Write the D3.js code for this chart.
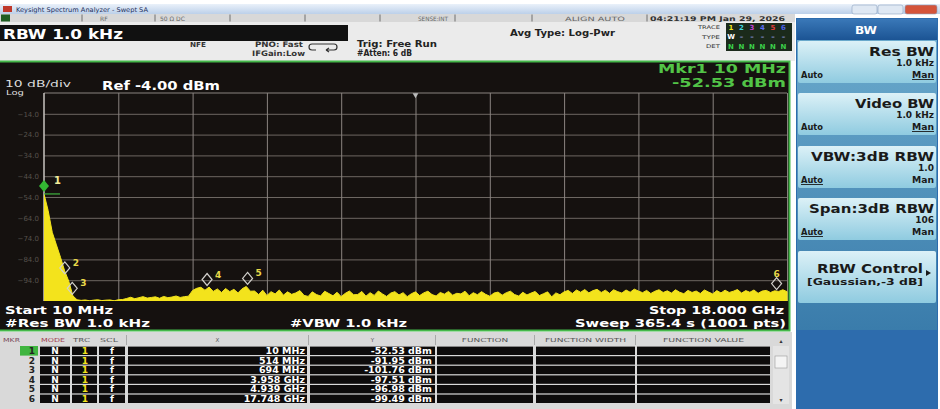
<!DOCTYPE html>
<html>
<head>
<meta charset="utf-8">
<script src="https://cdn.jsdelivr.net/npm/d3@7"></script>
<style>
body { margin: 0; background: #fff; overflow: hidden; }
svg { display: block; }
</style>
</head>
<body>
<script>
// sweep settings
var startGHz = 0.01, stopGHz = 18.0;
var refLevel = -4, dbPerDiv = 10, nDiv = 10;

// trace 1 (dBm), evenly spaced from start to stop
var traceDbm = [
  -52.5, -60.5, -71, -77, -83, -89.5, -94.5, -101.5, -103.4,
  -103.7, -103.5, -103.9, -103.6, -103.4, -103.8, -103.6, -103.5, -103.9, -103.4, -103.3,
  -102.8, -102.2, -102.9, -102.4, -101.9, -102.6, -102.3, -102.0, -102.7, -101.8, -102.4, -102.1, -101.6, -102.3, -101.9, -101.7,
  -98.9, -97.9, -97.4, -98.8, -97.3, -99.4, -98.2, -99.9, -98.0, -99.5, -98.4, -100.1, -98.1, -97.0, -99.3,
  -99.2, -100.9, -98.8, -101.4, -99.5, -100.6, -98.7, -101.2, -99.6, -100.8,
  -100.1, -99.0, -101.3, -101.8, -99.6, -100.9, -101.6, -99.3, -100.4, -101.5, -99.8, -101.9, -100.3, -99.2, -101.0,
  -100.9, -99.4, -101.7, -100.0, -101.3, -99.2, -100.6, -101.8, -100.2, -99.5, -101.1, -100.0, -101.9, -100.5, -99.6,
  -101.4, -100.1, -99.3, -100.9, -101.6, -99.9, -100.7, -99.4, -101.2, -100.3,
  -100.6, -99.3, -101.5, -100.0, -101.0, -99.5, -100.8, -101.7, -100.2, -99.7, -101.2, -100.0, -99.3, -100.9, -101.6,
  -99.8, -101.1, -100.2, -99.4, -101.4, -100.5, -99.6, -102.0, -100.1, -101.0,
  -99.6, -98.9, -100.4, -98.7, -99.8, -98.5, -100.1, -99.0, -98.4, -99.9, -98.8, -100.3, -98.6, -99.5, -100.2,
  -98.7, -99.8, -98.3, -99.2, -100.0, -98.9, -100.4, -99.3, -98.6, -99.9,
  -99.1, -100.2, -98.6, -99.8, -100.5, -98.9, -99.9, -99.2, -100.4, -98.7, -99.7, -100.6, -99.0, -100.1, -98.8,
  -99.9, -99.3, -98.5, -100.2, -99.0, -99.8, -98.7, -100.3, -99.2, -98.9, -99.9, -99.1, -99.4, -98.6, -99.5
];

// markers
var markerNums = [1, 2, 3, 4, 5, 6];
var markerGHz = [0.01, 0.514, 0.694, 3.958, 4.939, 17.748];
var markerDbm = [-52.53, -91.95, -101.76, -97.51, -96.98, -99.49];
var markerXText = ["10 MHz", "514 MHz", "694 MHz", "3.958 GHz", "4.939 GHz", "17.748 GHz"];
var markerYText = ["-52.53 dBm", "-91.95 dBm", "-101.76 dBm", "-97.51 dBm", "-96.98 dBm", "-99.49 dBm"];

// softkeys
var keyTitles = ["Res BW", "Video BW", "VBW:3dB RBW", "Span:3dB RBW", "RBW Control"];
var keyValues = ["1.0 kHz", "1.0 kHz", "1.0", "106", "[Gaussian,-3 dB]"];
var keyAuto = [false, false, true, true, null];

var W = 940, H = 409;
var FONT = '"DejaVu Sans", "Liberation Sans", sans-serif';

var svg = d3.select("body").append("svg").attr("width", W).attr("height", H)
  .style("font-family", FONT);
var defs = svg.append("defs");

function vgrad(id, c1, c2) {
  var g = defs.append("linearGradient").attr("id", id).attr("x1", 0).attr("y1", 0).attr("x2", 0).attr("y2", 1);
  g.append("stop").attr("offset", "0%").attr("stop-color", c1);
  g.append("stop").attr("offset", "100%").attr("stop-color", c2);
}
vgrad("titleG", "#eaf1fa", "#bcd0e9");
vgrad("keyG", "#dcf1f7", "#8fcbe0");
vgrad("bandG", "#6aa9cc", "#3a7cab");
vgrad("hdrG", "#3a78b8", "#1b5494");

function label(g, x, y, s, o) {
  o = o || {};
  var t = g.append("text").attr("x", x).attr("y", y).text(s)
    .attr("font-size", o.size || 10)
    .attr("font-weight", o.bold ? "bold" : "normal")
    .attr("fill", o.fill || "#fff")
    .attr("text-anchor", o.anchor || "start");
  if (o.w) t.attr("textLength", o.w).attr("lengthAdjust", "spacingAndGlyphs");
  return t;
}

// ---- window title + status row
svg.append("rect").attr("x", 0).attr("y", 4).attr("width", W).attr("height", 10).attr("fill", "url(#titleG)");
svg.append("rect").attr("x", 3).attr("y", 6).attr("width", 9).attr("height", 6).attr("fill", "#c0392b");
label(svg, 16, 12, "Keysight Spectrum Analyzer - Swept SA", {size: 6.5, fill: "#1d2f5c", w: 132});
[[852, "#dfe8f3"], [878, "#dfe8f3"], [905, "#d4543a"]].forEach(function (b) {
  svg.append("rect").attr("x", b[0]).attr("y", 5).attr("width", b[0] == 905 ? 32 : 25).attr("height", 9)
    .attr("rx", 2).attr("fill", b[1]).attr("stroke", "#8da3bf").attr("stroke-width", 0.6);
});

var statRow = svg.append("g");
statRow.append("rect").attr("x", 0).attr("y", 14).attr("width", 795).attr("height", 8).attr("fill", "#d8d8d8");
statRow.append("rect").attr("x", 1).attr("y", 14.5).attr("width", 9).attr("height", 7).attr("fill", "#1f5e22");
[82, 155, 230, 305, 380, 455, 532, 647].forEach(function (sx) {
  statRow.append("line").attr("x1", sx).attr("x2", sx).attr("y1", 14.5).attr("y2", 21.5).attr("stroke", "#555").attr("stroke-width", 0.8);
});
label(statRow, 100, 20.5, "RF", {size: 6, fill: "#666"});
label(statRow, 160, 20.5, "50 \u03a9   DC", {size: 6, fill: "#666"});
label(statRow, 418, 20.5, "SENSE:INT", {size: 6, fill: "#666", w: 30});
label(statRow, 565, 20.5, "ALIGN AUTO", {size: 6, fill: "#666", w: 60});
label(statRow, 650, 20.5, "04:21:19 PM Jan 29, 2026", {size: 6.5, fill: "#333", w: 135, bold: true});

// ---- settings area
var info = svg.append("g");
info.append("rect").attr("x", 0).attr("y", 22).attr("width", 795).attr("height", 39).attr("fill", "#ebebeb");
info.append("rect").attr("x", 0).attr("y", 25).attr("width", 348).attr("height", 16).attr("fill", "#111");
label(info, 3, 39, "RBW 1.0 kHz", {size: 14, bold: true, w: 120});
label(info, 190, 47, "NFE", {size: 7, bold: true, fill: "#333", w: 16});
label(info, 255, 47, "PNO: Fast", {size: 7.5, bold: true, fill: "#333", w: 48});
label(info, 252, 56, "IFGain:Low", {size: 7.5, bold: true, fill: "#333", w: 53});
info.append("path").attr("d", "M312,44 h22 a3,3 0 0 1 0,6 h-8 m0,0 l3,-2 m-3,2 l3,2 M312,44 a3,3 0 0 0 0,6 h4")
  .attr("fill", "none").attr("stroke", "#333").attr("stroke-width", 1.2);
label(info, 357, 47, "Trig: Free Run", {size: 8.5, bold: true, fill: "#222", w: 80});
label(info, 357, 56, "#Atten: 6 dB", {size: 8, bold: true, fill: "#222", w: 55});
label(info, 510, 36, "Avg Type: Log-Pwr", {size: 8.5, bold: true, fill: "#222", w: 105});
label(info, 720, 29, "TRACE", {size: 5, fill: "#333", anchor: "end", w: 22});
label(info, 720, 39, "TYPE", {size: 5, fill: "#333", anchor: "end", w: 18});
label(info, 720, 48, "DET", {size: 5, fill: "#333", anchor: "end", w: 14});
info.append("rect").attr("x", 726).attr("y", 23).attr("width", 66).attr("height", 28).attr("fill", "#1b2a1b");
var trColors = ["#f2e21a", "#3fd6e0", "#c040d0", "#5a6cf0", "#e03c3c", "#4a60e8"];
trColors.forEach(function (c, i) {
  label(info, 731 + i * 10.5, 30, String(i + 1), {size: 7, bold: true, fill: c, anchor: "middle"});
  label(info, 731 + i * 10.5, 39, i == 0 ? "W" : "\u2013", {size: 7, bold: true, fill: i == 0 ? "#fff" : "#8d96d8", anchor: "middle"});
  label(info, 731 + i * 10.5, 49, "N", {size: 7, bold: true, fill: "#3bd04a", anchor: "middle"});
});

// ---- display area
var disp = svg.append("g");
disp.append("rect").attr("x", 0).attr("y", 61).attr("width", 790).attr("height", 270).attr("fill", "#15110f");
disp.append("path").attr("d", "M0,61.5 H789.5 V330.5 H0").attr("fill", "none").attr("stroke", "#45b84a").attr("stroke-width", 2);

label(disp, 5, 87, "10 dB/div", {size: 9, fill: "#ddd", w: 66});
label(disp, 6, 95, "Log", {size: 7, fill: "#ddd", w: 18});
label(disp, 102, 90, "Ref -4.00 dBm", {size: 11.5, bold: true, fill: "#fff", w: 118});
label(disp, 786, 73, "Mkr1 10 MHz", {size: 11.5, bold: true, fill: "#52c447", anchor: "end", w: 128});
label(disp, 786, 87, "-52.53 dBm", {size: 11.5, bold: true, fill: "#52c447", anchor: "end", w: 114});

var L = 44, R = 787, T = 93, B = 301;
var x = d3.scaleLinear().domain([startGHz, stopGHz]).range([L, R]);
var y = d3.scaleLinear().domain([refLevel - nDiv * dbPerDiv, refLevel]).range([B, T]);
var idx = d3.scaleLinear().domain([0, traceDbm.length - 1]).range([startGHz, stopGHz]);

var yTicks = d3.range(1, nDiv).map(function (i) { return refLevel - i * dbPerDiv; });
var xTicks = d3.range(1, nDiv + 1).map(function (i) { return startGHz + i * (stopGHz - startGHz) / nDiv; });

var gy = disp.append("g").attr("transform", "translate(" + L + ",0)")
  .call(d3.axisLeft(y).tickValues(yTicks).tickSize(-(R - L)).tickPadding(5).tickFormat(d3.format(".1f")));
gy.select(".domain").remove();
gy.selectAll("line").attr("stroke", "#6d6762").attr("stroke-width", 1);
gy.selectAll("text").attr("fill", "#57514d").attr("font-size", 7).attr("font-family", FONT);

var gx = disp.append("g").attr("transform", "translate(0," + B + ")")
  .call(d3.axisBottom(x).tickValues(xTicks).tickSize(-(B - T)).tickFormat(""));
gx.select(".domain").remove();
gx.selectAll("line").attr("stroke", "#8a8480").attr("stroke-width", 1);

disp.append("line").attr("x1", L).attr("x2", R).attr("y1", T).attr("y2", T).attr("stroke", "#8a8480");
disp.append("line").attr("x1", L).attr("x2", L).attr("y1", T).attr("y2", B).attr("stroke", "#c8c4c0").attr("stroke-width", 1.5);
disp.append("path").attr("d", d3.symbol(d3.symbolTriangle, 14)())
  .attr("transform", "translate(" + x((startGHz + stopGHz) / 2) + "," + (T + 2) + ") rotate(180)").attr("fill", "#bbb");

disp.append("clipPath").attr("id", "plotClip").append("rect")
  .attr("x", L).attr("y", T).attr("width", R - L + 1).attr("height", B - T);

var area = d3.area()
  .x(function (d, i) { return x(idx(i)); })
  .y0(B)
  .y1(function (d) { return y(d); });
disp.append("path").datum(traceDbm).attr("clip-path", "url(#plotClip)")
  .attr("d", area).attr("fill", "#f3e31c").attr("stroke", "#f3e31c").attr("stroke-width", 1);

// markers
markerNums.forEach(function (m, i) {
  var mx = x(markerGHz[i]), my = y(markerDbm[i]) - 8;
  var d = "M" + mx + "," + (my - 6) + " L" + (mx + 5) + "," + my + " L" + mx + "," + (my + 6) + " L" + (mx - 5) + "," + my + "Z";
  if (i == 0) {
    disp.append("line").attr("x1", L).attr("x2", L + 16).attr("y1", y(markerDbm[i])).attr("y2", y(markerDbm[i]))
      .attr("stroke", "#3fb53f").attr("stroke-width", 1.2);
    disp.append("path").attr("d", d).attr("fill", "#33b833");
    label(disp, mx + 10, my - 2, String(m), {size: 10, bold: true, fill: "#f2ec9a"});
  } else {
    disp.append("path").attr("d", d).attr("fill", "none").attr("stroke", "#d2d0cc").attr("stroke-width", 1.2);
    if (mx > R - 20) label(disp, mx, my - 7, String(m), {size: 9, bold: true, fill: "#e8d84a", anchor: "middle"});
    else label(disp, mx + 8, my - 2, String(m), {size: 9, bold: true, fill: "#e8d84a"});
  }
});

label(disp, 5, 314, "Start 10 MHz", {size: 11, bold: true, w: 108});
label(disp, 5, 326.5, "#Res BW 1.0 kHz", {size: 11, bold: true, w: 145});
label(disp, 290, 326.5, "#VBW 1.0 kHz", {size: 11, bold: true, w: 117});
label(disp, 784, 314, "Stop 18.000 GHz", {size: 11, bold: true, anchor: "end", w: 135});
label(disp, 786, 326.5, "Sweep  365.4 s (1001 pts)", {size: 11, bold: true, anchor: "end", w: 211});

// ---- marker table
var tab = svg.append("g");
tab.append("rect").attr("x", 0).attr("y", 332).attr("width", 792).attr("height", 77).attr("fill", "#d9d9d9");
var cols = [[40, 70], [72, 97], [99, 125], [128, 307], [310, 435], [437, 533], [536, 635], [637, 770]];
var heads = ["X", "Y", "FUNCTION", "FUNCTION WIDTH", "FUNCTION VALUE"];
label(tab, 3, 342, "MKR", {size: 5.5, fill: "#7a4a5a", w: 17});
label(tab, 41, 342, "MODE", {size: 5.5, fill: "#a04050", w: 24});
label(tab, 73, 342, "TRC", {size: 5.5, fill: "#555", w: 17});
label(tab, 100, 342, "SCL", {size: 5.5, fill: "#555", w: 18});
heads.forEach(function (h, k) {
  var c = cols[k + 3];
  label(tab, (c[0] + c[1]) / 2, 342, h, {size: 5.5, fill: "#555", anchor: "middle", w: h.length > 1 ? h.length * 5.8 : null});
});
cols.forEach(function (c, k) {
  if (k > 2) tab.append("line").attr("x1", c[0] - 1.5).attr("x2", c[0] - 1.5).attr("y1", 335).attr("y2", 345).attr("stroke", "#888").attr("stroke-width", 0.6);
});
var rowH = 9.6, row0 = 346;
markerNums.forEach(function (m, i) {
  var ry = row0 + i * rowH;
  if (i == 0) tab.append("rect").attr("x", 20).attr("y", ry).attr("width", 18).attr("height", rowH).attr("fill", "#3fb53f");
  label(tab, 32, ry + 8, String(m), {size: 9, bold: true, fill: "#222", anchor: "middle"});
  cols.forEach(function (c) {
    tab.append("rect").attr("x", c[0]).attr("y", ry + 0.6).attr("width", c[1] - c[0]).attr("height", rowH - 1.2).attr("fill", "#0d0b0b");
  });
  label(tab, 55, ry + 8, "N", {size: 9, bold: true, anchor: "middle"});
  label(tab, 85, ry + 8, "1", {size: 9, bold: true, fill: "#f2e21a", anchor: "middle"});
  label(tab, 112, ry + 8, "f", {size: 9, bold: true, anchor: "middle"});
  label(tab, 305, ry + 8, markerXText[i], {size: 9.5, bold: true, anchor: "end"});
  label(tab, 432, ry + 8, markerYText[i], {size: 9.5, bold: true, anchor: "end"});
});
// scrollbar
tab.append("rect").attr("x", 773).attr("y", 346).attr("width", 16).attr("height", 58).attr("fill", "#e4e4e4");
tab.append("rect").attr("x", 775).attr("y", 356).attr("width", 12).attr("height", 12).attr("fill", "#f4f4f4").attr("stroke", "#999").attr("stroke-width", 0.6);
label(tab, 781, 343, "\u25b4", {size: 6, fill: "#333", anchor: "middle"});
label(tab, 781, 402, "\u25be", {size: 6, fill: "#333", anchor: "middle"});

// ---- softkey panel
var pan = svg.append("g");
pan.append("rect").attr("x", 796).attr("y", 18).attr("width", 142).attr("height", 391).attr("fill", "#2d6cad");
pan.append("rect").attr("x", 797).attr("y", 19).attr("width", 140).attr("height", 21).attr("fill", "url(#hdrG)");
label(pan, 866, 34, "BW", {size: 10, bold: true, anchor: "middle", w: 22});
pan.append("rect").attr("x", 797).attr("y", 40).attr("width", 140).attr("height", 290).attr("fill", "url(#bandG)");
var keyTops = [41, 93, 146, 198, 251];
keyTitles.forEach(function (t, k) {
  var ky = keyTops[k], kh = k == 4 ? 52 : 42;
  pan.append("rect").attr("x", 798).attr("y", ky).attr("width", 138).attr("height", kh).attr("rx", 2).attr("fill", "url(#keyG)");
  if (k < 4) {
    label(pan, 934, ky + 15, t, {size: 12, bold: true, fill: "#1a1a1a", anchor: "end", w: [65, 79, 123, 125][k]});
    label(pan, 934, ky + 25, keyValues[k], {size: 9, bold: true, fill: "#1a1a1a", anchor: "end"});
    var a = label(pan, 801, ky + 37, "Auto", {size: 9, bold: true, fill: "#1a1a1a", w: 22});
    var mn = label(pan, 934, ky + 37, "Man", {size: 9, bold: true, fill: "#1a1a1a", anchor: "end", w: 22});
    (keyAuto[k] ? a : mn).attr("text-decoration", "underline");
  } else {
    label(pan, 923, ky + 22, t, {size: 11.5, bold: true, fill: "#1a1a1a", anchor: "end", w: 106});
    pan.append("path").attr("d", "M926," + (ky + 19) + " l5,3 l-5,3 Z").attr("fill", "#1a1a1a");
    label(pan, 923, ky + 34, keyValues[k], {size: 9, bold: true, fill: "#1a1a1a", anchor: "end", w: 116});
  }
});
</script>
</body>
</html>
